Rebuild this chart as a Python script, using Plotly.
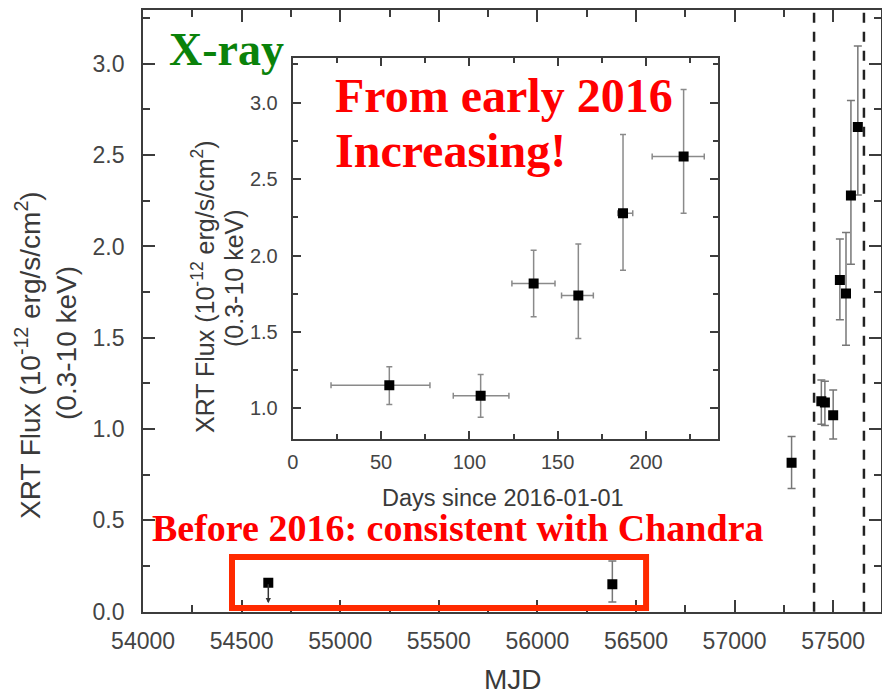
import plotly.graph_objects as go

W, H = 882, 694

# ---------------- data ----------------
# main panel (Swift XRT, MJD)
main_mjd = [57289, 57440, 57458, 57500, 57534, 57565, 57590, 57625]
main_flux = [0.816, 1.152, 1.145, 1.076, 1.817, 1.742, 2.279, 2.654]
main_err_plus = [0.143, 0.117, 0.117, 0.138, 0.224, 0.334, 0.520, 0.444]
main_err_minus = [0.141, 0.126, 0.126, 0.131, 0.218, 0.283, 0.377, 0.372]

pre_mjd = [56380]
pre_flux = [0.150]
pre_err_plus = [0.127]
pre_err_minus = [0.097]

ul_mjd = [54635]
ul_flux = [0.159]
ul_tip = [0.046]

dashed_mjd = [57403, 57656]

box_mjd = [54451, 56551]
box_flux = [0.02, 0.30]

# inset (days since 2016-01-01)
in_days = [54.7, 106.4, 136.4, 161.7, 187.0, 221.3]
in_flux = [1.152, 1.083, 1.817, 1.739, 2.276, 2.647]
in_xerr_minus = [33.0, 15.5, 12.3, 9.5, 3.0, 17.8]
in_xerr_plus = [23.0, 16.0, 12.1, 8.5, 5.5, 11.7]
in_yerr_plus = [0.120, 0.139, 0.218, 0.337, 0.515, 0.439]
in_yerr_minus = [0.126, 0.140, 0.217, 0.281, 0.372, 0.370]

# ---------------- layout helpers ----------------
def px(x):
    return x / W

def py(y):
    return 1 - y / H

AX = "#3c3c3c"
TXT = "#3a3a3a"
SANS = "Liberation Sans, Arial, sans-serif"
SERIF = "Liberation Serif, Times New Roman, serif"

fig = go.Figure()

# main data
fig.add_trace(go.Scatter(
    x=main_mjd, y=main_flux, mode="markers",
    marker=dict(symbol="square", size=10, color="black"),
    error_y=dict(type="data", symmetric=False, array=main_err_plus,
                 arrayminus=main_err_minus, color="#777777", thickness=1.5, width=4),
    xaxis="x", yaxis="y", showlegend=False))
fig.add_trace(go.Scatter(
    x=pre_mjd, y=pre_flux, mode="markers",
    marker=dict(symbol="square", size=10, color="black"),
    error_y=dict(type="data", symmetric=False, array=pre_err_plus,
                 arrayminus=pre_err_minus, color="#777777", thickness=1.5, width=4),
    xaxis="x", yaxis="y", showlegend=False))
fig.add_trace(go.Scatter(
    x=ul_mjd, y=ul_flux, mode="markers",
    marker=dict(symbol="square", size=10, color="black"),
    xaxis="x", yaxis="y", showlegend=False))

# inset data
fig.add_trace(go.Scatter(
    x=in_days, y=in_flux, mode="markers",
    marker=dict(symbol="square", size=10, color="black"),
    error_y=dict(type="data", symmetric=False, array=in_yerr_plus,
                 arrayminus=in_yerr_minus, color="#8a8a8a", thickness=1.5, width=3),
    error_x=dict(type="data", symmetric=False, array=in_xerr_plus,
                 arrayminus=in_xerr_minus, color="#8a8a8a", thickness=1.5, width=3),
    xaxis="x2", yaxis="y2", showlegend=False))

main_xdom = [px(143.1), px(880.5)]
main_ydom = [py(611.7), py(9.6)]
in_xdom = [px(292.7), px(717.7)]
in_ydom = [py(439), py(58.3)]

common = dict(showline=True, linecolor=AX, mirror="ticks", ticks="inside",
              tickcolor=AX, showgrid=False, zeroline=False, automargin=False)

fig.update_layout(
    width=W, height=H,
    margin=dict(l=0, r=0, t=0, b=0, autoexpand=False),
    paper_bgcolor="white", plot_bgcolor="white",
    xaxis=dict(domain=main_xdom, range=[54000, 57740], dtick=500, tick0=54000,
               tickformat="d", linewidth=2, ticklen=12, tickwidth=2,
               minor=dict(dtick=250, ticklen=7, tickwidth=2, tickcolor=AX, ticks="inside"),
               tickfont=dict(family=SANS, size=23, color="#444444"),
               ticklabelstandoff=8, anchor="y", **common),
    yaxis=dict(domain=main_ydom, range=[0, 3.297], dtick=0.5, tick0=0,
               tickformat=".1f", linewidth=2, ticklen=12, tickwidth=2,
               minor=dict(dtick=0.25, ticklen=7, tickwidth=2, tickcolor=AX, ticks="inside"),
               tickfont=dict(family=SANS, size=23, color="#444444"),
               ticklabelstandoff=12, anchor="x", **common),
    xaxis2=dict(domain=in_xdom, range=[0, 240.6], dtick=50, tick0=0,
                linewidth=2, ticklen=8, tickwidth=1.5,
                minor=dict(dtick=25, ticklen=5, tickwidth=1.5, tickcolor=AX, ticks="inside"),
                tickfont=dict(family=SANS, size=20, color="#444444"),
                ticklabelstandoff=4, anchor="y2", **common),
    yaxis2=dict(domain=in_ydom, range=[0.8, 3.29], dtick=0.5, tick0=0,
                tickformat=".1f", linewidth=2, ticklen=8, tickwidth=1.5,
                minor=dict(dtick=0.25, ticklen=5, tickwidth=1.5, tickcolor=AX, ticks="inside"),
                tickfont=dict(family=SANS, size=20, color="#444444"),
                ticklabelstandoff=9, anchor="x2", **common),
)

shapes = []
for m in dashed_mjd:
    shapes.append(dict(type="line", xref="x", yref="y domain", x0=m, x1=m, y0=0, y1=1,
                       line=dict(color="#222222", width=2.5, dash="10px,9px")))
shapes.append(dict(type="rect", xref="x", yref="y", x0=box_mjd[0], x1=box_mjd[1],
                   y0=box_flux[0], y1=box_flux[1],
                   line=dict(color="#ff2a00", width=6)))
fig.update_layout(shapes=shapes)

ann = []
# upper-limit arrow
ann.append(dict(x=ul_mjd[0], y=ul_tip[0], ax=ul_mjd[0], ay=ul_flux[0],
                xref="x", yref="y", axref="x", ayref="y", text="",
                showarrow=True, arrowhead=2, arrowsize=0.7, arrowwidth=1.5,
                arrowcolor="#333333", standoff=0, startstandoff=0))
# axis titles
ann.append(dict(x=px(28), y=py(355), xref="paper", yref="paper", showarrow=False,
                text="XRT Flux (10<sup>-12</sup> erg/s/cm<sup>2</sup>)", textangle=-90,
                font=dict(family=SANS, size=28, color=TXT), xanchor="center", yanchor="middle"))
ann.append(dict(x=px(66), y=py(343), xref="paper", yref="paper", showarrow=False,
                text="(0.3-10 keV)", textangle=-90,
                font=dict(family=SANS, size=28, color=TXT), xanchor="center", yanchor="middle"))
ann.append(dict(x=px(513), y=py(679), xref="paper", yref="paper", showarrow=False,
                text="MJD", font=dict(family=SANS, size=28, color=TXT),
                xanchor="center", yanchor="middle"))
ann.append(dict(x=px(203), y=py(287), xref="paper", yref="paper", showarrow=False,
                text="XRT Flux (10<sup>-12</sup> erg/s/cm<sup>2</sup>)", textangle=-90,
                font=dict(family=SANS, size=25, color=TXT), xanchor="center", yanchor="middle"))
ann.append(dict(x=px(234), y=py(278), xref="paper", yref="paper", showarrow=False,
                text="(0.3-10 keV)", textangle=-90,
                font=dict(family=SANS, size=25, color=TXT), xanchor="center", yanchor="middle"))
ann.append(dict(x=px(502.5), y=py(498), xref="paper", yref="paper", showarrow=False,
                text="Days since 2016-01-01", font=dict(family=SANS, size=23.5, color=TXT),
                xanchor="center", yanchor="middle"))
# highlight texts
ann.append(dict(x=px(226.5), y=py(49), xref="paper", yref="paper", showarrow=False,
                text="<b>X-ray</b>", font=dict(family=SERIF, size=46, color="#0a820a"),
                xanchor="center", yanchor="middle"))
ann.append(dict(x=px(333), y=py(96), xref="paper", yref="paper", showarrow=False,
                text="<b>From early 2016</b>", font=dict(family=SERIF, size=48, color="#ff0000"),
                xanchor="left", yanchor="middle"))
ann.append(dict(x=px(333), y=py(151), xref="paper", yref="paper", showarrow=False,
                text="<b>Increasing!</b>", font=dict(family=SERIF, size=48, color="#ff0000"),
                xanchor="left", yanchor="middle"))
ann.append(dict(x=px(150), y=py(528), xref="paper", yref="paper", showarrow=False,
                text="<b>Before 2016: consistent with Chandra</b>",
                font=dict(family=SERIF, size=38, color="#ff0000"),
                xanchor="left", yanchor="middle"))
fig.update_layout(annotations=ann)

fig.write_html("out.html")
